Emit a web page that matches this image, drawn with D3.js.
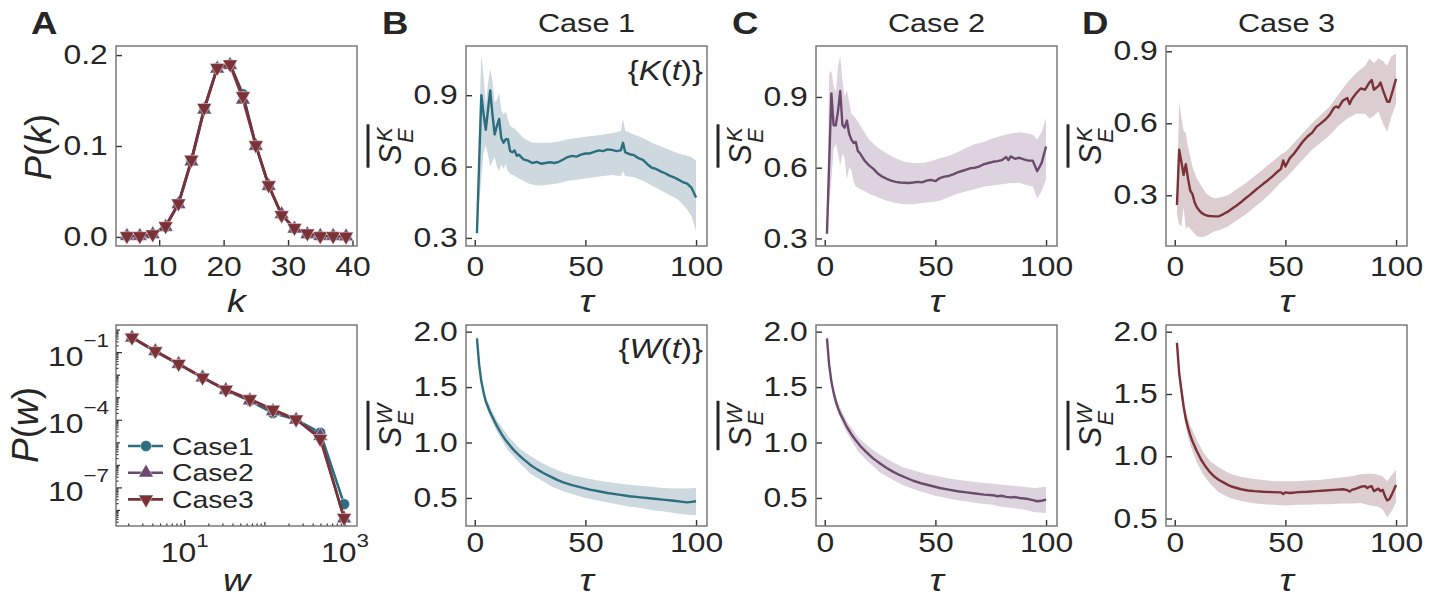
<!DOCTYPE html>
<html>
<head>
<meta charset="utf-8">
<script src="https://cdn.jsdelivr.net/npm/d3@7"></script>
<style>
  body { margin: 0; background: #fff; }
  svg { display: block; }
  text { font-family: "Liberation Sans", Arial, sans-serif; fill: #262626; }
</style>
</head>
<body>
<svg id="chart" width="1439" height="598"></svg>
<script>
// ---------- data ----------
const cases = ['Case1', 'Case2', 'Case3']
const caseTitles = ['Case 1', 'Case 2', 'Case 3']

// panel A, degree distribution
const kVals = [5, 7, 9, 11, 13, 15, 17, 19, 21, 23, 25, 27, 29, 31, 33, 35, 37, 39]
const pkCase1 = [0.001, 0.001, 0.003, 0.011, 0.037, 0.084, 0.141, 0.186, 0.190, 0.157, 0.101, 0.056, 0.024, 0.009, 0.003, 0.001, 0.001, 0.0005]
const pkCase2 = [0.001, 0.001, 0.003, 0.011, 0.036, 0.083, 0.140, 0.185, 0.189, 0.151, 0.100, 0.056, 0.025, 0.009, 0.003, 0.001, 0.001, 0.0005]
const pkCase3 = [0.001, 0.001, 0.003, 0.012, 0.037, 0.085, 0.142, 0.186, 0.190, 0.155, 0.101, 0.057, 0.024, 0.010, 0.004, 0.001, 0.001, 0.0005]

// panel A, weight distribution
const wVals = [2.2, 4.3, 8.4, 16.7, 32.6, 65, 126, 245, 490, 973]
const pwCase1 = [0.457, 0.115, 0.031, 0.0078, 0.0022, 7.2e-4, 2.1e-4, 1.07e-4, 2.8e-5, 1.9e-8]
const pwCase2 = [0.457, 0.115, 0.031, 0.0078, 0.0022, 7.6e-4, 2.5e-4, 1.05e-4, 2.0e-5, 4.4e-9]
const pwCase3 = [0.47, 0.118, 0.032, 0.0079, 0.0023, 8.7e-4, 3.0e-4, 1.1e-4, 1.5e-5, 4.7e-9]

// Case 1, {K(t)}
const tauBK = [1, 2, 3, 4, 5, 6, 7, 8, 9, 10, 11, 12, 13, 14, 15, 16, 17, 18, 19, 20, 21, 22, 24, 26, 28, 30, 32, 34, 36, 38, 40, 42, 44, 46, 48, 50, 52, 54, 56, 58, 60, 62, 64, 66, 67, 68, 70, 72, 74, 76, 78, 80, 82, 84, 86, 88, 90, 92, 94, 96, 98, 100]
const meanBK = [0.32, 0.62, 0.90, 0.82, 0.755, 0.84, 0.92, 0.82, 0.735, 0.77, 0.80, 0.72, 0.70, 0.715, 0.715, 0.665, 0.66, 0.668, 0.645, 0.65, 0.64, 0.63, 0.625, 0.615, 0.62, 0.612, 0.615, 0.618, 0.615, 0.62, 0.63, 0.64, 0.645, 0.642, 0.65, 0.655, 0.655, 0.662, 0.668, 0.665, 0.672, 0.67, 0.665, 0.668, 0.70, 0.66, 0.652, 0.648, 0.635, 0.628, 0.61, 0.595, 0.59, 0.58, 0.572, 0.562, 0.555, 0.545, 0.535, 0.528, 0.51, 0.47]
const bandTauBK = [1, 2, 3, 4, 5, 6, 7, 8, 9, 10, 11, 12, 13, 14, 15, 16, 18, 20, 22, 24, 26, 28, 30, 34, 38, 42, 46, 50, 54, 58, 62, 66, 67, 68, 72, 76, 80, 84, 88, 92, 96, 98, 100]
const loBK = [0.30, 0.45, 0.55, 0.66, 0.69, 0.65, 0.60, 0.62, 0.64, 0.60, 0.58, 0.61, 0.59, 0.61, 0.58, 0.57, 0.56, 0.55, 0.54, 0.53, 0.525, 0.52, 0.52, 0.525, 0.53, 0.54, 0.545, 0.55, 0.555, 0.56, 0.565, 0.56, 0.58, 0.56, 0.555, 0.54, 0.52, 0.50, 0.48, 0.46, 0.42, 0.39, 0.33]
const hiBK = [0.35, 0.80, 1.07, 0.98, 0.86, 0.95, 1.01, 0.96, 0.87, 0.88, 0.91, 0.84, 0.82, 0.83, 0.80, 0.77, 0.76, 0.74, 0.72, 0.71, 0.70, 0.70, 0.70, 0.70, 0.705, 0.715, 0.72, 0.725, 0.73, 0.735, 0.74, 0.75, 0.80, 0.75, 0.735, 0.72, 0.70, 0.685, 0.67, 0.655, 0.645, 0.64, 0.625]

// Case 2, {K(t)}
const tauCK = [1, 2, 3, 4, 5, 6, 7, 8, 9, 10, 11, 12, 13, 14, 15, 16, 17, 18, 19, 20, 22, 24, 26, 28, 30, 32, 34, 36, 38, 40, 42, 44, 46, 48, 50, 52, 54, 56, 58, 60, 62, 64, 66, 68, 70, 72, 74, 76, 78, 80, 82, 83, 84, 86, 88, 90, 92, 94, 96, 98, 100]
const meanCK = [0.32, 0.62, 0.915, 0.78, 0.78, 0.84, 0.925, 0.78, 0.77, 0.80, 0.745, 0.72, 0.705, 0.71, 0.67, 0.66, 0.645, 0.63, 0.62, 0.61, 0.595, 0.575, 0.562, 0.553, 0.545, 0.54, 0.537, 0.536, 0.535, 0.537, 0.54, 0.538, 0.545, 0.548, 0.543, 0.556, 0.562, 0.565, 0.572, 0.58, 0.586, 0.592, 0.598, 0.60, 0.606, 0.615, 0.62, 0.625, 0.628, 0.632, 0.645, 0.632, 0.648, 0.638, 0.642, 0.635, 0.63, 0.63, 0.585, 0.62, 0.69]
const bandTauCK = [1, 2, 3, 4, 5, 6, 7, 8, 9, 10, 11, 12, 13, 14, 16, 18, 20, 24, 28, 32, 36, 40, 44, 48, 52, 56, 60, 64, 68, 72, 76, 80, 84, 88, 92, 94, 96, 98, 100]
const loCK = [0.30, 0.45, 0.54, 0.68, 0.70, 0.66, 0.61, 0.66, 0.64, 0.55, 0.60, 0.59, 0.54, 0.52, 0.51, 0.50, 0.49, 0.475, 0.46, 0.45, 0.445, 0.445, 0.45, 0.455, 0.46, 0.475, 0.49, 0.50, 0.51, 0.52, 0.525, 0.53, 0.535, 0.535, 0.525, 0.52, 0.47, 0.50, 0.55]
const hiCK = [0.34, 1.00, 1.01, 0.95, 0.92, 1.03, 1.075, 0.97, 0.90, 0.93, 0.88, 0.83, 0.82, 0.81, 0.78, 0.75, 0.72, 0.685, 0.66, 0.64, 0.625, 0.62, 0.62, 0.627, 0.64, 0.65, 0.665, 0.685, 0.70, 0.71, 0.725, 0.735, 0.745, 0.75, 0.745, 0.74, 0.72, 0.75, 0.81]

// Case 3, {K(t)}
const tauDK = [1, 2, 3, 4, 5, 6, 7, 8, 9, 10, 11, 12, 13, 14, 15, 16, 18, 20, 22, 24, 26, 28, 30, 32, 34, 36, 38, 40, 42, 44, 46, 48, 49, 50, 52, 54, 56, 58, 60, 62, 64, 66, 68, 70, 72, 73, 74, 76, 78, 79, 80, 82, 84, 86, 88, 89, 90, 92, 93, 94, 96, 97, 98, 100]
const meanDK = [0.26, 0.49, 0.44, 0.385, 0.43, 0.37, 0.32, 0.305, 0.27, 0.25, 0.238, 0.228, 0.222, 0.218, 0.215, 0.214, 0.2125, 0.213, 0.222, 0.232, 0.245, 0.258, 0.272, 0.288, 0.302, 0.318, 0.333, 0.348, 0.362, 0.378, 0.395, 0.41, 0.445, 0.42, 0.455, 0.475, 0.50, 0.525, 0.545, 0.56, 0.585, 0.60, 0.615, 0.635, 0.665, 0.67, 0.665, 0.695, 0.705, 0.68, 0.70, 0.725, 0.745, 0.74, 0.77, 0.78, 0.74, 0.755, 0.77, 0.74, 0.69, 0.69, 0.72, 0.785]
const bandTauDK = [1, 2, 3, 4, 5, 6, 8, 10, 12, 14, 16, 18, 20, 24, 28, 32, 36, 40, 44, 48, 50, 54, 58, 62, 66, 70, 74, 78, 82, 86, 88, 90, 92, 94, 96, 98, 100]
const loDK = [0.22, 0.18, 0.17, 0.25, 0.16, 0.17, 0.15, 0.13, 0.125, 0.13, 0.14, 0.15, 0.155, 0.17, 0.195, 0.22, 0.25, 0.28, 0.315, 0.355, 0.37, 0.41, 0.45, 0.49, 0.52, 0.55, 0.59, 0.62, 0.64, 0.64, 0.62, 0.63, 0.65, 0.60, 0.565, 0.63, 0.68]
const hiDK = [0.30, 0.69, 0.62, 0.57, 0.56, 0.50, 0.42, 0.37, 0.34, 0.31, 0.295, 0.288, 0.29, 0.30, 0.325, 0.35, 0.38, 0.41, 0.44, 0.47, 0.48, 0.52, 0.56, 0.60, 0.635, 0.67, 0.72, 0.77, 0.81, 0.84, 0.87, 0.85, 0.87, 0.86, 0.84, 0.88, 0.89]

// Case 1, {W(t)}
const tauBW = [1, 2, 3, 4, 5, 6, 7, 8, 9, 10, 12, 14, 16, 18, 20, 22, 25, 28, 31, 34, 37, 40, 44, 48, 52, 56, 60, 65, 70, 75, 80, 85, 90, 94, 96, 98, 100]
const meanBW = [1.94, 1.70, 1.55, 1.45, 1.37, 1.32, 1.27, 1.23, 1.19, 1.15, 1.08, 1.02, 0.97, 0.925, 0.885, 0.85, 0.80, 0.76, 0.725, 0.695, 0.665, 0.64, 0.615, 0.595, 0.575, 0.56, 0.545, 0.53, 0.515, 0.505, 0.495, 0.485, 0.475, 0.465, 0.46, 0.465, 0.47]
const bandTauBW = [1, 2, 3, 5, 8, 10, 15, 20, 25, 30, 35, 40, 45, 50, 55, 60, 65, 70, 75, 80, 85, 90, 95, 100]
const loBW = [1.90, 1.66, 1.52, 1.33, 1.18, 1.10, 0.93, 0.82, 0.72, 0.66, 0.60, 0.56, 0.53, 0.50, 0.48, 0.46, 0.44, 0.42, 0.41, 0.39, 0.38, 0.365, 0.35, 0.345]
const hiBW = [1.98, 1.74, 1.58, 1.41, 1.28, 1.20, 1.06, 0.95, 0.88, 0.82, 0.77, 0.73, 0.70, 0.68, 0.66, 0.645, 0.63, 0.62, 0.61, 0.60, 0.59, 0.585, 0.585, 0.59]

// Case 2, {W(t)}
const tauCW = [1, 2, 3, 4, 5, 6, 7, 8, 9, 10, 12, 14, 16, 18, 20, 22, 25, 28, 31, 34, 37, 40, 44, 48, 52, 56, 60, 64, 68, 72, 76, 78, 80, 82, 84, 86, 88, 90, 92, 94, 96, 98, 100]
const meanCW = [1.94, 1.70, 1.55, 1.45, 1.37, 1.31, 1.26, 1.22, 1.18, 1.14, 1.075, 1.02, 0.97, 0.93, 0.89, 0.855, 0.81, 0.77, 0.735, 0.705, 0.68, 0.655, 0.63, 0.61, 0.59, 0.575, 0.56, 0.55, 0.54, 0.53, 0.525, 0.515, 0.52, 0.51, 0.505, 0.508, 0.50, 0.495, 0.49, 0.48, 0.47, 0.475, 0.485]
const bandTauCW = [1, 2, 3, 5, 8, 10, 15, 20, 25, 30, 35, 40, 45, 50, 55, 60, 65, 70, 75, 80, 85, 90, 95, 100]
const loCW = [1.90, 1.66, 1.52, 1.33, 1.17, 1.09, 0.92, 0.82, 0.73, 0.67, 0.62, 0.58, 0.55, 0.52, 0.50, 0.48, 0.465, 0.45, 0.44, 0.42, 0.41, 0.395, 0.37, 0.365]
const hiCW = [1.98, 1.74, 1.58, 1.41, 1.27, 1.19, 1.05, 0.96, 0.89, 0.83, 0.78, 0.75, 0.72, 0.70, 0.68, 0.665, 0.65, 0.64, 0.63, 0.62, 0.61, 0.60, 0.59, 0.60]

// Case 3, {W(t)}
const tauDW = [1, 2, 3, 4, 5, 6, 7, 8, 9, 10, 12, 14, 16, 18, 20, 22, 24, 26, 28, 30, 33, 36, 40, 44, 48, 49, 50, 52, 56, 60, 64, 68, 72, 76, 78, 79, 80, 82, 84, 86, 87, 88, 89, 90, 91, 92, 93, 94, 95, 96, 97, 98, 100]
const meanDW = [1.91, 1.67, 1.53, 1.40, 1.30, 1.23, 1.17, 1.12, 1.08, 1.04, 0.97, 0.915, 0.87, 0.835, 0.81, 0.79, 0.77, 0.755, 0.745, 0.735, 0.725, 0.72, 0.715, 0.712, 0.71, 0.697, 0.71, 0.705, 0.712, 0.715, 0.72, 0.725, 0.73, 0.735, 0.728, 0.716, 0.73, 0.74, 0.755, 0.76, 0.745, 0.755, 0.76, 0.72, 0.73, 0.74, 0.72, 0.73, 0.68, 0.645, 0.655, 0.69, 0.77]
const bandTauDW = [1, 2, 3, 5, 7, 10, 13, 16, 20, 25, 30, 35, 40, 45, 50, 55, 60, 65, 70, 75, 80, 84, 87, 90, 92, 94, 96, 98, 100]
const loDW = [1.86, 1.62, 1.47, 1.23, 1.09, 0.95, 0.85, 0.78, 0.71, 0.665, 0.64, 0.625, 0.615, 0.61, 0.605, 0.61, 0.61, 0.615, 0.615, 0.62, 0.62, 0.625, 0.61, 0.60, 0.595, 0.57, 0.51, 0.56, 0.63]
const hiDW = [1.98, 1.72, 1.59, 1.36, 1.25, 1.13, 1.03, 0.96, 0.91, 0.86, 0.835, 0.82, 0.81, 0.80, 0.80, 0.80, 0.805, 0.81, 0.82, 0.83, 0.84, 0.855, 0.86, 0.86, 0.85, 0.84, 0.80, 0.85, 0.89]

const tauTicks = [0, 50, 100]
const kTicks = [10, 20, 30, 40]
const pkTicks = [0.0, 0.1, 0.2]

// ---------- styling ----------
const SX = 1.18 // horizontal text in the reference is drawn wider than the font
const colors = ['#2c6e7f', '#6b4a6e', '#7b3236']
const bandColors = ['#cdd9de', '#dcd3de', '#dbcdd0']
const INK = '#262626'
const colX = [116, 466, 816, 1166]
const rowY = [46, 325]
const rowH = [200, 201]
const tickPad = [11, 7]
const BOXW = 241

const svg = d3.select('#chart')

function zip (xs, ys) {
  if (xs.length !== ys.length) console.error('length mismatch', xs.length, ys.length)
  return xs.map((x, i) => [x, ys[i]])
}

function panel (col, row) {
  const g = svg.append('g').attr('transform', `translate(${colX[col]},${rowY[row]})`)
  return { g, w: BOXW, h: rowH[row], row }
}

function frame (p) {
  p.g.append('rect')
    .attr('width', p.w).attr('height', p.h)
    .attr('fill', 'none').attr('stroke', '#707070').attr('stroke-width', 1.4)
}

function styleAxis (sel) {
  sel.select('.domain').remove()
  sel.selectAll('.tick line').attr('stroke', '#333').attr('stroke-width', 1.4)
  sel.selectAll('.tick text')
    .attr('font-size', 27).attr('fill', INK)
    .attr('font-family', '"Liberation Sans", Arial, sans-serif')
    .attr('transform', `scale(${SX},1)`)
}

function linearAxes (p, x, y, xTicks, yTicks, yFmt) {
  p.g.append('g').attr('transform', `translate(0,${p.h})`)
    .call(d3.axisBottom(x).tickValues(xTicks).tickSizeInner(-6).tickSizeOuter(0).tickPadding(tickPad[p.row]))
    .call(styleAxis)
  p.g.append('g')
    .call(d3.axisLeft(y).tickValues(yTicks).tickFormat(d3.format(yFmt)).tickSizeInner(-6).tickSizeOuter(0).tickPadding(7))
    .call(styleAxis)
}

// text with italic pieces; horizontal text is widened, rotated text is not
function richText (parent, x, y, parts, size, anchor, rotate) {
  const g = parent.append('g')
    .attr('transform', `translate(${x},${y})` + (rotate ? ' rotate(-90)' : ` scale(${SX},1)`))
  const t = g.append('text').attr('text-anchor', anchor).attr('font-size', size)
  parts.forEach(([s, it]) => {
    t.append('tspan').text(s).attr('font-style', it ? 'italic' : 'normal')
  })
  return t
}

// overlined S with subscript E and superscript K / W, rotated
function entropyLabel (x, yc, sup) {
  const g = svg.append('g').attr('transform', `translate(${x},${yc}) rotate(-90)`)
  const s = g.append('text').text('S').attr('font-size', 31).attr('font-style', 'italic')
  const e = g.append('text').text('E').attr('font-size', 22).attr('font-style', 'italic')
  const k = g.append('text').text(sup).attr('font-size', 22).attr('font-style', 'italic')
  const ws = s.node().getComputedTextLength()
  const wsub = Math.max(e.node().getComputedTextLength(), k.node().getComputedTextLength())
  const W = ws + 2 + wsub
  s.attr('x', -W / 2)
  e.attr('x', -W / 2 + ws + 1).attr('y', 12)
  k.attr('x', -W / 2 + ws + 2).attr('y', -9)
  g.append('line')
    .attr('x1', -W / 2 - 3).attr('x2', W / 2 + 3)
    .attr('y1', -33).attr('y2', -33)
    .attr('stroke', INK).attr('stroke-width', 3)
}

function marker (sel, i) {
  if (i === 0) {
    sel.append('circle').attr('r', 5.5)
  } else {
    sel.append('path')
      .attr('d', d3.symbol(d3.symbolTriangle, 95)())
      .attr('transform', i === 2 ? 'rotate(180)' : null)
  }
  sel.attr('fill', colors[i]).attr('stroke', 'rgba(255,255,255,0.45)').attr('stroke-width', 1)
}

// ---------- panel A top: P(k) ----------
{
  const p = panel(0, 0)
  const x = d3.scaleLinear().domain([3.3, 40.7]).range([0, p.w])
  const y = d3.scaleLinear().domain([-0.01, 0.21]).range([p.h, 0])
  linearAxes(p, x, y, kTicks, pkTicks, '.1f')
  const line = d3.line().x(d => x(d[0])).y(d => y(d[1]))
  ;[pkCase1, pkCase2, pkCase3].forEach((vals, i) => {
    const pts = zip(kVals, vals)
    p.g.append('path').attr('d', line(pts)).attr('fill', 'none')
      .attr('stroke', colors[i]).attr('stroke-width', 2.6)
    p.g.selectAll(null).data(pts).enter().append('g')
      .attr('transform', d => `translate(${x(d[0])},${y(d[1])})`)
      .each(function () { marker(d3.select(this), i) })
  })
  frame(p)
  richText(svg, 51, 147, [['P', true], ['(', false], ['k', true], [')', false]], 36, 'middle', true)
  richText(svg, colX[0] + BOXW / 2, 312, [['k', true]], 32, 'middle', false)
}

// ---------- panel A bottom: P(w) ----------
{
  const p = panel(0, 1)
  const x = d3.scaleLog().domain([Math.pow(10, 0.143), Math.pow(10, 3.149)]).range([0, p.w])
  const y = d3.scaleLog().domain([Math.pow(10, -8.69), Math.pow(10, 0.225)]).range([p.h, 0])
  const ticks = p.g.append('g').attr('stroke', '#333').attr('stroke-width', 1.2)
  // y ticks
  for (let d = -9; d <= 0; d++) {
    for (let m = 1; m <= 9; m++) {
      const v = m * Math.pow(10, d)
      const [lo, hi] = y.domain()
      if (v < lo || v > hi) continue
      const major = m === 1 && (d === -1 || d === -4 || d === -7)
      const len = major ? 6 : (m === 1 ? 4 : 2.5)
      ticks.append('line').attr('x1', 0).attr('x2', len).attr('y1', y(v)).attr('y2', y(v))
    }
  }
  // x ticks
  for (let d = 0; d <= 3; d++) {
    for (let m = 1; m <= 9; m++) {
      const v = m * Math.pow(10, d)
      const [lo, hi] = x.domain()
      if (v < lo || v > hi) continue
      const major = m === 1 && (d === 1 || d === 3)
      const len = major ? 6 : (m === 1 ? 4 : 2.5)
      ticks.append('line').attr('y1', p.h).attr('y2', p.h - len).attr('x1', x(v)).attr('x2', x(v))
    }
  }
  ;[-1, -4, -7].forEach(d => {
    const t = richText(p.g, -7, y(Math.pow(10, d)) + 13, [], 27, 'end', false)
    t.append('tspan').text('10')
    t.append('tspan').text('\u2212' + (-d)).attr('font-size', 19).attr('dy', -19)
  })
  ;[1, 3].forEach(d => {
    const t = richText(p.g, x(Math.pow(10, d)), p.h + 36, [], 27, 'middle', false)
    t.append('tspan').text('10')
    t.append('tspan').text(String(d)).attr('font-size', 19).attr('dy', -15)
  })
  const line = d3.line().x(d => x(d[0])).y(d => y(d[1]))
  ;[pwCase1, pwCase2, pwCase3].forEach((vals, i) => {
    const pts = zip(wVals, vals)
    p.g.append('path').attr('d', line(pts)).attr('fill', 'none')
      .attr('stroke', colors[i]).attr('stroke-width', 2.6)
    p.g.selectAll(null).data(pts).enter().append('g')
      .attr('transform', d => `translate(${x(d[0])},${y(d[1])})`)
      .each(function () { marker(d3.select(this), i) })
  })
  frame(p)
  // legend
  cases.forEach((name, i) => {
    const ly = 446 - rowY[1] + i * 26.7
    p.g.append('line').attr('x1', 12).attr('x2', 47).attr('y1', ly).attr('y2', ly)
      .attr('stroke', colors[i]).attr('stroke-width', 2.6)
    marker(p.g.append('g').attr('transform', `translate(30,${ly})`), i)
    richText(p.g, 56, ly + 8.5, [[name, false]], 24, 'start', false)
  })
  richText(svg, 38, 425, [['P', true], ['(', false], ['w', true], [')', false]], 37, 'middle', true)
  richText(svg, colX[0] + BOXW / 2, 591, [['w', true]], 32, 'middle', false)
}

// ---------- panels B, C, D ----------
const timePanels = [
  { col: 1, row: 0, c: 0, tau: tauBK, mean: meanBK, bt: bandTauBK, lo: loBK, hi: hiBK, dom: [0.266, 1.107], ticks: [0.3, 0.6, 0.9], sup: 'K', note: 'K' },
  { col: 2, row: 0, c: 1, tau: tauCK, mean: meanCK, bt: bandTauCK, lo: loCK, hi: hiCK, dom: [0.268, 1.116], ticks: [0.3, 0.6, 0.9], sup: 'K' },
  { col: 3, row: 0, c: 2, tau: tauDK, mean: meanDK, bt: bandTauDK, lo: loDK, hi: hiDK, dom: [0.089, 0.922], ticks: [0.3, 0.6, 0.9], sup: 'K' },
  { col: 1, row: 1, c: 0, tau: tauBW, mean: meanBW, bt: bandTauBW, lo: loBW, hi: hiBW, dom: [0.247, 2.06], ticks: [0.5, 1.0, 1.5, 2.0], sup: 'W', note: 'W' },
  { col: 2, row: 1, c: 1, tau: tauCW, mean: meanCW, bt: bandTauCW, lo: loCW, hi: hiCW, dom: [0.247, 2.06], ticks: [0.5, 1.0, 1.5, 2.0], sup: 'W' },
  { col: 3, row: 1, c: 2, tau: tauDW, mean: meanDW, bt: bandTauDW, lo: loDW, hi: hiDW, dom: [0.44, 2.054], ticks: [0.5, 1.0, 1.5, 2.0], sup: 'W' }
]

timePanels.forEach(tp => {
  const p = panel(tp.col, tp.row)
  const x = d3.scaleLinear().domain([-3.95, 104.95]).range([0, p.w])
  const y = d3.scaleLinear().domain(tp.dom).range([p.h, 0])
  const band = tp.bt.map((t, i) => ({ t, lo: tp.lo[i], hi: tp.hi[i] }))
  if (tp.lo.length !== tp.bt.length || tp.hi.length !== tp.bt.length) console.error('band length mismatch', tp)
  p.g.append('path')
    .attr('d', d3.area().x(d => x(d.t)).y0(d => y(d.lo)).y1(d => y(d.hi))(band))
    .attr('fill', bandColors[tp.c])
  p.g.append('path')
    .attr('d', d3.line().x(d => x(d[0])).y(d => y(d[1]))(zip(tp.tau, tp.mean)))
    .attr('fill', 'none').attr('stroke', colors[tp.c]).attr('stroke-width', 2.4)
    .attr('stroke-linejoin', 'round')
  linearAxes(p, x, y, tauTicks, tp.ticks, '.1f')
  frame(p)
  if (tp.note) {
    const ny = tp.row === 0 ? 80 - rowY[0] : 358 - rowY[1]
    richText(p.g, p.w - 4, ny, [['{', false], [tp.note, true], ['(', false], ['t', true], [')}', false]], 28, 'end', false)
  }
  entropyLabel(colX[tp.col] - 65, rowY[tp.row] + p.h / 2, tp.sup)
  const lx = colX[tp.col] + BOXW / 2
  richText(svg, lx, tp.row === 0 ? 312 : 591, [['\u03c4', true]], 32, 'middle', false)
})

// titles and panel letters
caseTitles.forEach((t, i) => {
  richText(svg, colX[i + 1] + BOXW / 2, 32, [[t, false]], 26, 'middle', false)
})
;['A', 'B', 'C', 'D'].forEach((l, i) => {
  richText(svg, [31, 382, 732, 1082][i], 34, [[l, false]], 31, 'start', false)
    .attr('font-weight', 'bold')
})
</script>
</body>
</html>
